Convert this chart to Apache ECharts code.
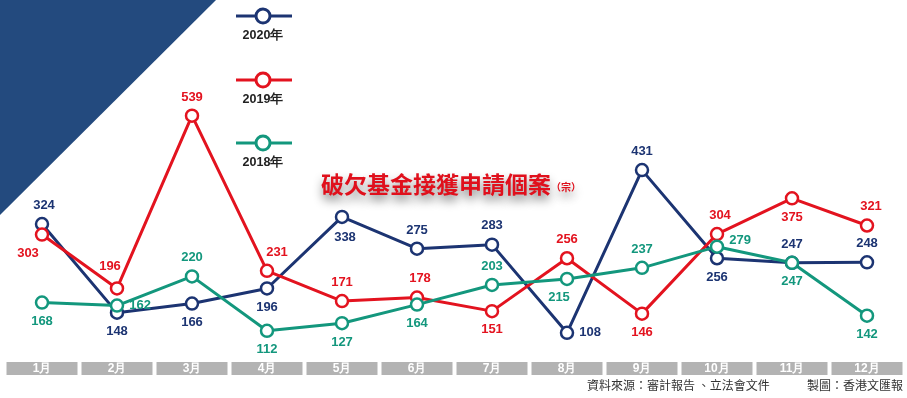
<!DOCTYPE html>
<html>
<head>
<meta charset="utf-8">
<script src="https://cdn.jsdelivr.net/npm/echarts@6/dist/echarts.min.js"></script>
<style>
  html, body { margin: 0; padding: 0; background: #fff; }
  #main { width: 907px; height: 398px; }
</style>
</head>
<body>
<div id="main"></div>
<script>
  // 數據
  var months = ['1月', '2月', '3月', '4月', '5月', '6月', '7月', '8月', '9月', '10月', '11月', '12月'];
  var names = ['2020年', '2019年', '2018年'];
  var y2020 = [324, 148, 166, 196, 338, 275, 283, 108, 431, 256, 247, 248];
  var y2019 = [303, 196, 539, 231, 171, 178, 151, 256, 146, 304, 375, 321];
  var y2018 = [168, 162, 220, 112, 127, 164, 203, 215, 237, 279, 247, 142];

  // 標籤位置
  var pos2020 = ['top', 'bottom', 'bottom', 'bottom', 'bottom', 'top', 'top', 'right', 'top', 'bottom', 'top', 'top'];
  var pos2019 = ['bottom', 'top', 'top', 'top', 'top', 'top', 'bottom', 'top', 'bottom', 'top', 'bottom', 'top'];
  var pos2018 = ['bottom', 'right', 'top', 'bottom', 'bottom', 'bottom', 'top', 'bottom', 'top', 'right', 'bottom', 'bottom'];
  // 個別標籤微調
  var off2020 = [[2, 0], null, null, null, [3, 2], null, null, null, null, null, null, null];
  var off2019 = [[-14, 0], [-7, -3], null, [10, 0], null, [3, 0], null, null, null, [3, 0], null, [4, 0]];
  var off2018 = [null, null, null, null, null, null, null, [-8, 0], null, [0, -6], null, null];

  var colors = ['#1c3472', '#e3131f', '#13977d'];

  function buildData(vals, pos, off) {
    return vals.map(function(v, i) {
      var lb = { position: pos[i] };
      if (off[i]) lb.offset = off[i];
      return { value: v, label: lb };
    });
  }

  function makeSeries(name, vals, pos, off, color) {
    return {
      name: name,
      type: 'line',
      data: buildData(vals, pos, off),
      symbol: 'circle',
      symbolSize: 12,
      showAllSymbol: true,
      lineStyle: { width: 3, color: color },
      itemStyle: { color: '#fff', borderColor: color, borderWidth: 2.5 },
      label: {
        show: true,
        distance: 5,
        color: color,
        fontSize: 13,
        fontWeight: 'bold',
        fontFamily: 'Liberation Sans'
      },
      emphasis: { disabled: true },
      animation: false
    };
  }

  var myChart = echarts.init(document.getElementById('main'));

  // 圖例（線 + 圓 + 文字）
  var legendY = [16, 80, 143];
  var legendGraphics = [];
  names.forEach(function(n, i) {
    legendGraphics.push({
      type: 'line', z: 10,
      shape: { x1: 236, y1: legendY[i], x2: 292, y2: legendY[i] },
      style: { stroke: colors[i], lineWidth: 3 }
    });
    legendGraphics.push({
      type: 'circle', z: 11,
      shape: { cx: 263, cy: legendY[i], r: 7 },
      style: { fill: '#fff', stroke: colors[i], lineWidth: 3 }
    });
    legendGraphics.push({
      type: 'text', z: 11,
      x: 263, y: legendY[i] + 20,
      style: {
        text: n, fill: '#222', fontSize: 12.5, fontWeight: 'bold',
        fontFamily: 'Liberation Sans', align: 'center', verticalAlign: 'middle'
      }
    });
  });

  var option = {
    backgroundColor: '#fff',
    title: {
      text: '{a|破欠基金接獲申請個案}{b|（宗）}',
      left: 316,
      top: 168,
      textStyle: {
        rich: {
          a: {
            fontSize: 23, fontWeight: 'bold', color: '#e0101c',
            fontFamily: 'Noto Sans CJK TC',
            textShadowColor: 'rgba(0,0,0,0.45)', textShadowBlur: 10, textShadowOffsetY: 6
          },
          b: {
            fontSize: 10, fontWeight: 'bold', color: '#e0101c',
            fontFamily: 'Noto Sans CJK TC', padding: [6, 0, 0, 0],
            textShadowColor: 'rgba(0,0,0,0.45)', textShadowBlur: 10, textShadowOffsetY: 6
          }
        }
      }
    },
    graphic: [
      {
        type: 'polygon', z: -10,
        shape: { points: [[0, 0], [216, 0], [0, 215]] },
        style: { fill: '#234a7e' }
      },
      {
        type: 'text',
        left: 587, top: 379,
        style: {
          text: '資料來源：審計報告 、立法會文件', fill: '#333', fontSize: 12,
          fontFamily: 'Noto Sans CJK TC'
        }
      },
      {
        type: 'text',
        right: 4, top: 379,
        style: {
          text: '製圖：香港文匯報', fill: '#333', fontSize: 12,
          fontFamily: 'Noto Sans CJK TC'
        }
      }
    ].concat(legendGraphics),
    grid: {
      left: 4.5,
      width: 900,
      top: 85,
      bottom: 36
    },
    xAxis: {
      type: 'category',
      data: months,
      boundaryGap: true,
      axisLine: { show: false },
      axisTick: { show: false },
      splitLine: { show: false },
      axisLabel: {
        interval: 0,
        margin: 0,
        color: '#fff',
        fontSize: 12,
        fontWeight: 'bold',
        fontFamily: 'Liberation Sans',
        backgroundColor: '#b3b3b3',
        width: 71,
        height: 13,
        lineHeight: 13,
        align: 'center'
      }
    },
    yAxis: {
      type: 'value',
      min: 50,
      max: 600,
      show: false,
      splitLine: { show: false }
    },
    series: [
      makeSeries(names[0], y2020, pos2020, off2020, colors[0]),
      makeSeries(names[1], y2019, pos2019, off2019, colors[1]),
      makeSeries(names[2], y2018, pos2018, off2018, colors[2])
    ]
  };

  myChart.setOption(option);
</script>
</body>
</html>
